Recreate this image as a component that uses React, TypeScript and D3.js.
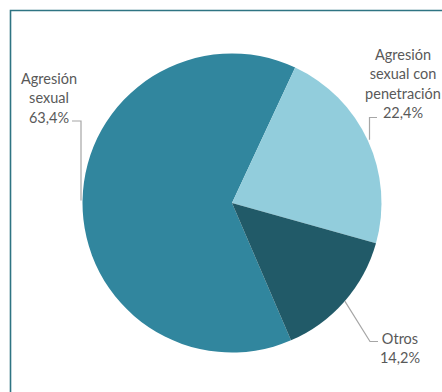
import React from "react";
import * as d3 from "d3";

const categories = ["Agresión sexual", "Agresión sexual con penetración", "Otros"];
const values = [63.4, 22.4, 14.2];
const valueLabels = ["63,4%", "22,4%", "14,2%"];
const labelLines = [
  ["Agresión", "sexual", "63,4%"],
  ["Agresión", "sexual con", "penetración", "22,4%"],
  ["Otros", "14,2%"],
];
const colors = ["#31869E", "#92CDDC", "#215A68"];

const W = 442;
const H = 392;
const cx = 232;
const cy = 203;
const R = 149.5;

const labelPos = [
  { x: 49, y: 78 },
  { x: 403, y: 54 },
  { x: 400, y: 338 },
];

export default function App() {
  const startDeg = 25 - values[0] / 100 * 360;
  const pie = d3
    .pie<number>()
    .sort(null)
    .value((d) => d)
    .startAngle((startDeg * Math.PI) / 180)
    .endAngle((startDeg * Math.PI) / 180 + 2 * Math.PI);
  const arcs = pie(values);
  const arc = d3.arc<d3.PieArcDatum<number>>().innerRadius(0).outerRadius(R);
  const lh = 19.5;

  const edgePoint = (deg: number) => {
    const a = (deg * Math.PI) / 180;
    return [cx + R * Math.sin(a), cy - R * Math.cos(a)];
  };
  const e0 = edgePoint(-89);
  const e1 = edgePoint(65);
  const e2 = edgePoint(131);
  const leaders = [
    [[72, 121], [81, 121], [81, e0[1]]],
    [[377, 117.5], [369.5, 117.5], [369.5, e1[1]]],
    [[378, 341.5], [370, 341.5], [e2[0], e2[1]]],
  ];

  return (
    <svg width={W} height={H} style={{ display: "block", position: "absolute", left: 0, top: 0 }}>
      <rect x={0} y={0} width={W} height={H} fill="#ffffff" />
      <path d={`M10.5,${H + 5} L10.5,10.5 L${W + 5},10.5`} fill="none" stroke="#2E7483" strokeWidth={1.6} />
      <g>
        {arcs.map((a, i) => (
          <path key={categories[i]} d={arc(a) || ""} transform={`translate(${cx},${cy})`} fill={colors[i]} />
        ))}
      </g>
      <g>
        {leaders.map((pts, i) => (
          <polyline
            key={i}
            points={pts.map((p) => p.join(",")).join(" ")}
            fill="none"
            stroke="#A6A6A6"
            strokeWidth={1.2}
          />
        ))}
      </g>
      <g fontFamily="Lato, 'Open Sans', sans-serif" fontSize={14.5} fill="#595959" textAnchor="middle">
        {labelLines.map((lines, i) => (
          <text key={i}>
            {lines.map((t, j) => (
              <tspan key={j} x={labelPos[i].x} y={labelPos[i].y + j * lh} dominantBaseline="central">
                {t}
              </tspan>
            ))}
          </text>
        ))}
      </g>
    </svg>
  );
}
